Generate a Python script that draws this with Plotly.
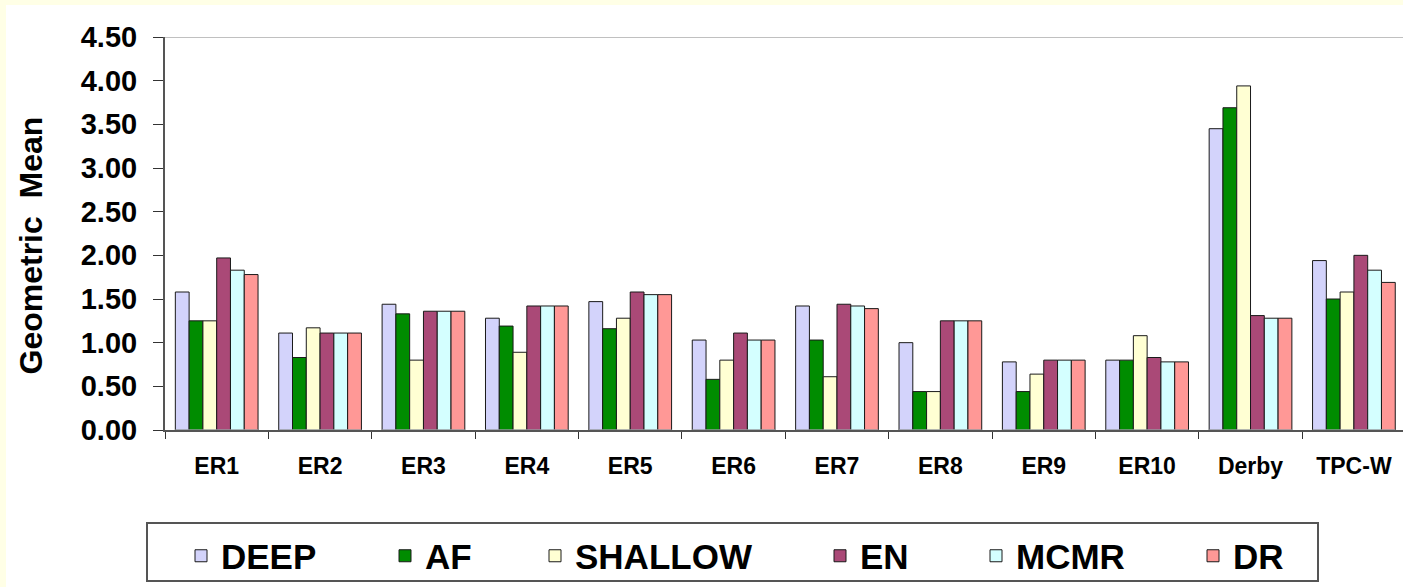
import plotly.graph_objects as go

categories = ["ER1", "ER2", "ER3", "ER4", "ER5", "ER6", "ER7", "ER8", "ER9", "ER10", "Derby", "TPC-W"]
series_names = ["DEEP", "AF", "SHALLOW", "EN", "MCMR", "DR"]

deep    = [1.58, 1.11, 1.44, 1.28, 1.47, 1.03, 1.42, 1.00, 0.78, 0.80, 3.45, 1.94]
af      = [1.25, 0.83, 1.33, 1.19, 1.16, 0.58, 1.03, 0.44, 0.44, 0.80, 3.69, 1.50]
shallow = [1.25, 1.17, 0.80, 0.89, 1.28, 0.80, 0.61, 0.44, 0.64, 1.08, 3.94, 1.58]
en      = [1.97, 1.11, 1.36, 1.42, 1.58, 1.11, 1.44, 1.25, 0.80, 0.83, 1.31, 2.00]
mcmr    = [1.83, 1.11, 1.36, 1.42, 1.55, 1.03, 1.42, 1.25, 0.80, 0.78, 1.28, 1.83]
dr      = [1.78, 1.11, 1.36, 1.42, 1.55, 1.03, 1.39, 1.25, 0.80, 0.78, 1.28, 1.69]

y_ticks = [0.0, 0.5, 1.0, 1.5, 2.0, 2.5, 3.0, 3.5, 4.0, 4.5]

colors = ["#D3D3FB", "#008C00", "#FFFFD3", "#AA4977", "#D4FFFF", "#FF9896"]
values = [deep, af, shallow, en, mcmr, dr]
# legend entry text start (pixels) for each series
legend_text_x = [221, 425, 575, 860, 1016, 1233]

W, H = 1403, 587
ML, MR, MT, MB = 165, 0, 37, 157
pw = W - ML - MR
ph = H - MT - MB

FONT = "Liberation Sans, Arial, sans-serif"


def px_x(p):
    return (p - ML) / pw


def px_y(p):
    return (H - MB - p) / ph


fig = go.Figure()
legend_layouts = {}
for i, (name, vals, col) in enumerate(zip(series_names, values, colors)):
    lname = "legend" if i == 0 else f"legend{i + 1}"
    fig.add_trace(go.Bar(
        x=categories, y=vals, name=name, legend=lname,
        marker=dict(color=col, line=dict(color="#1a1a1a", width=1)),
    ))
    legend_layouts[lname] = dict(
        orientation="h",
        x=px_x(legend_text_x[i] - 40), xanchor="left",
        y=px_y(556), yanchor="middle",
        borderwidth=0, bgcolor="rgba(0,0,0,0)",
        font=dict(size=35, family=FONT, weight="bold", color="black"),
    )

fig.update_layout(
    width=W, height=H,
    margin=dict(l=ML, r=MR, t=MT, b=MB, autoexpand=False),
    paper_bgcolor="white", plot_bgcolor="white",
    barmode="group", bargap=0.2, bargroupgap=0,
    font=dict(family=FONT, color="black"),
    xaxis=dict(
        type="category",
        range=[-0.5, 11.5 - 2.6 / 103.4],
        showline=True, linecolor="#555555", linewidth=2,
        ticks="outside", ticklen=7, tickcolor="#333333", tickwidth=1,
        tickmode="array", tickvals=[i - 0.5 for i in range(12)], ticktext=[""] * 12,
        showgrid=False, zeroline=False, fixedrange=True,
    ),
    xaxis2=dict(
        type="category", overlaying="x",
        range=[-0.5, 11.5 - 2.6 / 103.4],
        showline=False, ticks="", showgrid=False, zeroline=False,
        tickfont=dict(size=23, family=FONT, weight="bold"),
        ticklabelstandoff=20, side="bottom",
    ),
    yaxis=dict(
        range=[0, 4.5],
        tickmode="array", tickvals=y_ticks, ticktext=[f"{v:.2f}" for v in y_ticks],
        showline=True, linecolor="#555555", linewidth=2,
        ticks="outside", ticklen=10, tickcolor="#333333", tickwidth=1,
        tickfont=dict(size=29, family=FONT, weight="bold"),
        ticklabelstandoff=10,
        showgrid=False, zeroline=False,
    ),
    showlegend=True,
    **legend_layouts,
)

# invisible trace to carry category labels on xaxis2
fig.add_trace(go.Bar(x=categories, y=[0] * 12, xaxis="x2", showlegend=False,
                     marker=dict(color="rgba(0,0,0,0)"), hoverinfo="skip"))

# y axis title
fig.add_annotation(text="Geometric  Mean", xref="paper", yref="paper",
                   x=px_x(30.5), y=px_y(246), xanchor="center", yanchor="middle",
                   textangle=-90, showarrow=False,
                   font=dict(size=32, family=FONT, weight="bold", color="black"))

# top boundary line at 4.50
fig.add_shape(type="line", xref="paper", yref="y", x0=0, x1=1, y0=4.5, y1=4.5,
              line=dict(color="#C0C0C0", width=2), layer="below")
# ivory frame strips (left and top)
fig.add_shape(type="rect", xref="paper", yref="paper",
              x0=px_x(0), x1=px_x(6), y0=px_y(H), y1=px_y(0),
              fillcolor="#FFFFE6", line=dict(width=0), layer="below")
fig.add_shape(type="rect", xref="paper", yref="paper",
              x0=px_x(0), x1=px_x(W), y0=px_y(5), y1=px_y(0),
              fillcolor="#FFFFE6", line=dict(width=0), layer="below")
# legend frame
fig.add_shape(type="rect", xref="paper", yref="paper",
              x0=px_x(147), x1=px_x(1318), y0=px_y(581), y1=px_y(523),
              fillcolor="white", line=dict(color="#555555", width=2), layer="below")

fig.write_html("out.html", config={"displayModeBar": False},
               post_script="document.body.style.margin='0';document.body.style.overflow='hidden';")
